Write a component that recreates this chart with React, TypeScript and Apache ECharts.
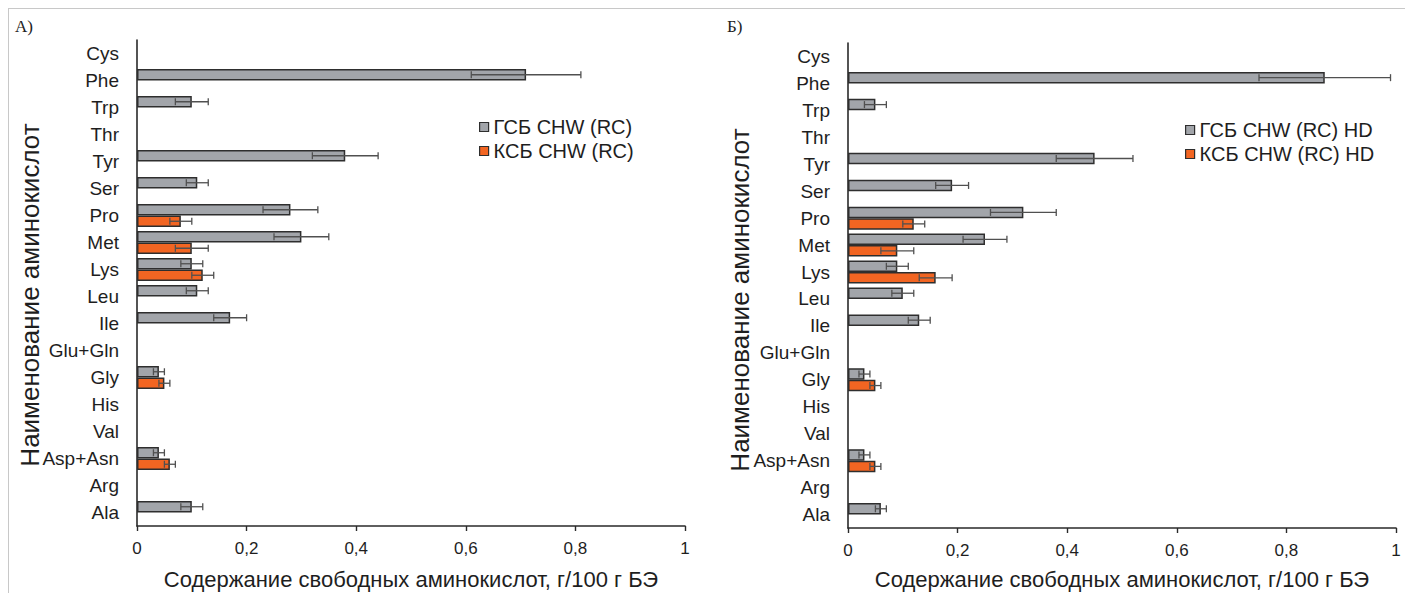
import React, { useEffect, useRef } from "react";
import * as echarts from "echarts";

const categories = ["Cys", "Phe", "Trp", "Thr", "Tyr", "Ser", "Pro", "Met", "Lys", "Leu", "Ile", "Glu+Gln", "Gly", "His", "Val", "Asp+Asn", "Arg", "Ala"];

const xTicks = [0, 0.2, 0.4, 0.6, 0.8, 1];

const seriesNamesA = ["ГСБ CHW (RC)", "КСБ CHW (RC)"];
const seriesNamesB = ["ГСБ CHW (RC) HD", "КСБ CHW (RC) HD"];

const grayA = [0, 0.71, 0.10, 0, 0.38, 0.11, 0.28, 0.30, 0.10, 0.11, 0.17, 0, 0.04, 0, 0, 0.04, 0, 0.10];
const grayErrA = [0, 0.10, 0.03, 0, 0.06, 0.02, 0.05, 0.05, 0.02, 0.02, 0.03, 0, 0.01, 0, 0, 0.01, 0, 0.02];
const orangeA = [0, 0, 0, 0, 0, 0, 0.08, 0.10, 0.12, 0, 0, 0, 0.05, 0, 0, 0.06, 0, 0];
const orangeErrA = [0, 0, 0, 0, 0, 0, 0.02, 0.03, 0.02, 0, 0, 0, 0.01, 0, 0, 0.01, 0, 0];

const grayB = [0, 0.87, 0.05, 0, 0.45, 0.19, 0.32, 0.25, 0.09, 0.10, 0.13, 0, 0.03, 0, 0, 0.03, 0, 0.06];
const grayErrB = [0, 0.12, 0.02, 0, 0.07, 0.03, 0.06, 0.04, 0.02, 0.02, 0.02, 0, 0.01, 0, 0, 0.01, 0, 0.01];
const orangeB = [0, 0, 0, 0, 0, 0, 0.12, 0.09, 0.16, 0, 0, 0, 0.05, 0, 0, 0.05, 0, 0];
const orangeErrB = [0, 0, 0, 0, 0, 0, 0.02, 0.03, 0.03, 0, 0, 0, 0.01, 0, 0, 0.01, 0, 0];

const xTitle = "Содержание свободных аминокислот, г/100 г БЭ";
const yTitle = "Наименование аминокислот";

const FONT = "'Liberation Sans', Arial, sans-serif";
const GRAY = "#a2a5aa";
const ORANGE = "#f26522";
const BORDER = "#2e2e2e";
const ERR = "#505050";
const BAR_W = 11.5;

function barData(vals: number[]) {
  return vals.map((v) => (v > 0 ? v : null));
}

function errData(vals: number[], errs: number[], off: number) {
  const out: number[][] = [];
  vals.forEach((v, i) => {
    if (v > 0 && errs[i] > 0) out.push([v - errs[i], v + errs[i], i, off]);
  });
  return out;
}

function renderErr(params: any, api: any) {
  const lo = api.value(0);
  const hi = api.value(1);
  const cat = api.value(2);
  const off = api.value(3);
  const p1 = api.coord([lo, cat]);
  const p2 = api.coord([hi, cat]);
  const y = p1[1] + off;
  const h = 3.5;
  const style = { stroke: ERR, lineWidth: 1.3, fill: "none" };
  return {
    type: "group",
    children: [
      { type: "line", shape: { x1: p1[0], y1: y, x2: p2[0], y2: y }, style },
      { type: "line", shape: { x1: p1[0], y1: y - h, x2: p1[0], y2: y + h }, style },
      { type: "line", shape: { x1: p2[0], y1: y - h, x2: p2[0], y2: y + h }, style },
    ],
  };
}

function xAxisCfg(gridIndex: number) {
  return {
    type: "value",
    gridIndex,
    min: 0,
    max: 1,
    interval: 0.2,
    splitLine: { show: false },
    axisLine: { show: true, lineStyle: { color: "#2a2a2a", width: 1.6 } },
    axisTick: { show: true, length: 5, lineStyle: { color: "#2a2a2a", width: 1.4 } },
    axisLabel: {
      margin: 14,
      fontSize: 17,
      fontFamily: FONT,
      color: "#1e1e1e",
      formatter: (v: number) => {
        const t = xTicks.find((x) => Math.abs(x - v) < 1e-9);
        return t === undefined ? "" : String(t).replace(".", ",");
      },
    },
  };
}

function yAxisCfg(gridIndex: number) {
  return {
    type: "category",
    gridIndex,
    inverse: true,
    data: categories,
    axisLine: { show: true, lineStyle: { color: "#2a2a2a", width: 1.6 } },
    axisTick: { show: false },
    axisLabel: { margin: 18, fontSize: 19, fontFamily: FONT, color: "#1e1e1e", interval: 0 },
  };
}

function barSeries(name: string, vals: number[], color: string, idx: number) {
  return {
    name,
    type: "bar",
    xAxisIndex: idx,
    yAxisIndex: idx,
    barWidth: BAR_W,
    barGap: "0%",
    data: barData(vals),
    itemStyle: { color, borderColor: BORDER, borderWidth: 1.5 },
  };
}

function errSeries(vals: number[], errs: number[], off: number, idx: number) {
  return {
    type: "custom",
    xAxisIndex: idx,
    yAxisIndex: idx,
    z: 5,
    silent: true,
    renderItem: renderErr,
    encode: { x: [0, 1], y: 2 },
    data: errData(vals, errs, off),
  };
}

function legendCfg(names: string[], left: number, top: number) {
  return {
    orient: "vertical",
    left,
    top,
    icon: "rect",
    itemWidth: 9,
    itemHeight: 9,
    itemGap: 4,
    data: names,
    itemStyle: { borderColor: BORDER, borderWidth: 1.2 },
    textStyle: { fontSize: 20, fontFamily: FONT, color: "#1e1e1e", lineHeight: 20 },
  };
}

export default function App() {
  const ref = useRef<HTMLDivElement>(null);
  useEffect(() => {
    if (!ref.current) return;
    const chart = echarts.init(ref.current, undefined, { renderer: "svg" });
    const half = BAR_W / 2;
    chart.setOption({
      animation: false,
      backgroundColor: "#ffffff",
      grid: [
        { left: 137, top: 40, width: 548, height: 486 },
        { left: 848, top: 43, width: 548, height: 485 },
      ],
      xAxis: [xAxisCfg(0), xAxisCfg(1)],
      yAxis: [yAxisCfg(0), yAxisCfg(1)],
      legend: [legendCfg(seriesNamesA, 474, 112), legendCfg(seriesNamesB, 1180, 115)],
      series: [
        barSeries(seriesNamesA[0], grayA, GRAY, 0),
        barSeries(seriesNamesA[1], orangeA, ORANGE, 0),
        barSeries(seriesNamesB[0], grayB, GRAY, 1),
        barSeries(seriesNamesB[1], orangeB, ORANGE, 1),
        errSeries(grayA, grayErrA, -half, 0),
        errSeries(orangeA, orangeErrA, half, 0),
        errSeries(grayB, grayErrB, -half, 1),
        errSeries(orangeB, orangeErrB, half, 1),
      ],
      graphic: [
        { type: "line", shape: { x1: 8, y1: 8.5, x2: 1405, y2: 8.5 }, style: { stroke: "#c8c8c8", lineWidth: 1 } },
        { type: "line", shape: { x1: 8.5, y1: 8, x2: 8.5, y2: 593 }, style: { stroke: "#c8c8c8", lineWidth: 1 } },
        { type: "text", x: 15, y: 26, style: { text: "А)", fontSize: 17, fontFamily: "'Liberation Serif', 'Times New Roman', serif", fill: "#222", verticalAlign: "middle" } },
        { type: "text", x: 727, y: 26, style: { text: "Б)", fontSize: 17, fontFamily: "'Liberation Serif', 'Times New Roman', serif", fill: "#222", verticalAlign: "middle" } },
        { type: "text", x: 411, y: 579, style: { text: xTitle, fontSize: 22, fontFamily: FONT, fill: "#1e1e1e", align: "center", verticalAlign: "middle" } },
        { type: "text", x: 1122, y: 579, style: { text: xTitle, fontSize: 22, fontFamily: FONT, fill: "#1e1e1e", align: "center", verticalAlign: "middle" } },
        { type: "text", x: 30, y: 295, rotation: Math.PI / 2, style: { text: yTitle, fontSize: 26, fontFamily: FONT, fill: "#1e1e1e", align: "center", verticalAlign: "middle" } },
        { type: "text", x: 740, y: 300, rotation: Math.PI / 2, style: { text: yTitle, fontSize: 26, fontFamily: FONT, fill: "#1e1e1e", align: "center", verticalAlign: "middle" } },
      ],
    });
    return () => chart.dispose();
  }, []);
  return <div ref={ref} style={{ position: "absolute", left: 0, top: 0, width: 1405, height: 593 }} />;
}
